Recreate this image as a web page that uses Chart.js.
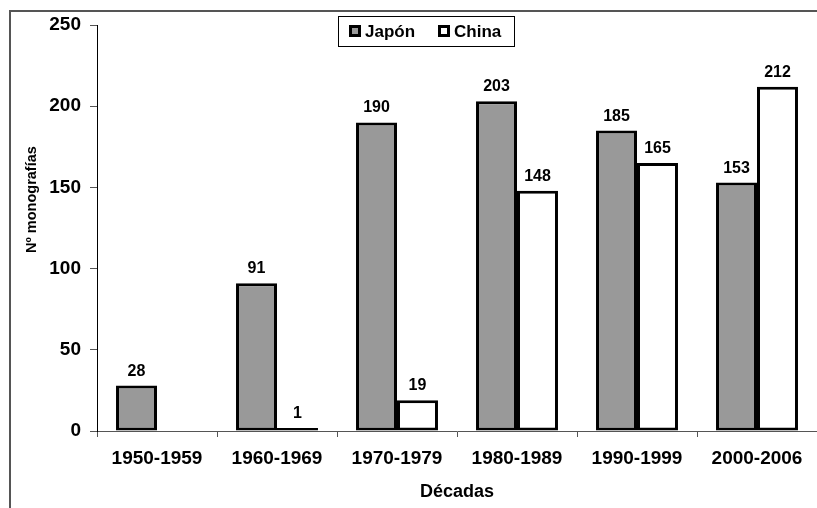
<!DOCTYPE html>
<html lang="es">
<head>
<meta charset="UTF-8">
<title>Monografías por décadas</title>
<script src="https://cdn.jsdelivr.net/npm/chart.js@4.4.0/dist/chart.umd.min.js"></script>
<style>
    body { margin: 0; background: #fff; }
</style>
</head>
<body>
<canvas id="grafico" width="817" height="508"></canvas>
<script>
    // Datos
    let decadas = ['1950-1959', '1960-1969', '1970-1979', '1980-1989', '1990-1999', '2000-2006'];
    let japon = [28, 91, 190, 203, 185, 153];
    let china = [null, 1, 19, 148, 165, 212];
    let marcasY = [0, 50, 100, 150, 200, 250];

    let fuente = "'Liberation Sans', Arial, sans-serif";

    // Marco gris exterior (solo lado izquierdo y superior visibles)
    let marco = {
        id: 'marco',
        beforeDraw(chart) {
            let c = chart.ctx;
            c.save();
            c.strokeStyle = '#555';
            c.lineWidth = 2;
            c.beginPath();
            c.moveTo(10, 508);
            c.lineTo(10, 11);
            c.lineTo(817, 11);
            c.stroke();
            c.restore();
        }
    };

    // Valores encima de cada barra
    let valores = {
        id: 'valores',
        afterDatasetsDraw(chart) {
            let c = chart.ctx;
            c.save();
            c.font = 'bold 16px ' + fuente;
            c.fillStyle = '#000';
            c.textAlign = 'center';
            c.textBaseline = 'alphabetic';
            chart.data.datasets.forEach((ds, i) => {
                chart.getDatasetMeta(i).data.forEach((barra, j) => {
                    let v = ds.data[j];
                    if (v === null) return;
                    c.fillText(v, barra.x, Math.min(barra.y, barra.base - 1.6) - 10);
                });
            });
            c.restore();
        }
    };

    // Leyenda en caja y titulos de ejes
    let extras = {
        id: 'extras',
        afterDraw(chart) {
            let c = chart.ctx;
            let area = chart.chartArea;
            c.save();
            c.fillStyle = '#fff';
            c.fillRect(338, 16, 176, 30);
            c.strokeStyle = '#000';
            c.lineWidth = 1;
            c.strokeRect(338.5, 16.5, 176, 30);

            c.font = 'bold 17px ' + fuente;
            c.textBaseline = 'alphabetic';
            c.textAlign = 'left';
            let items = [
                { x: 349, texto: chart.data.datasets[0].label, color: chart.data.datasets[0].backgroundColor },
                { x: 438, texto: chart.data.datasets[1].label, color: chart.data.datasets[1].backgroundColor }
            ];
            items.forEach(it => {
                c.fillStyle = '#000';
                c.fillRect(it.x, 25, 12, 12);
                c.fillStyle = it.color;
                c.fillRect(it.x + 3, 28, 6, 6);
                c.fillStyle = '#000';
                c.fillText(it.texto, it.x + 16, 37);
            });

            c.fillStyle = '#000';
            c.textAlign = 'center';
            c.font = 'bold 18px ' + fuente;
            c.fillText('Décadas', (area.left + area.right) / 2, 497);

            c.translate(36, area.top + area.height * 0.43);
            c.rotate(-Math.PI / 2);
            c.font = 'bold 14.5px ' + fuente;
            c.fillText('Nº monografías', 0, 0);
            c.restore();
        }
    };

    let ctx = document.getElementById('grafico').getContext('2d');
    let grafico = new Chart(ctx, {
        type: 'bar',
        data: {
            labels: decadas,
            datasets: [{
                label: 'Japón',
                data: japon,
                backgroundColor: '#999999',
                borderColor: '#000',
                borderWidth: 3,
                borderSkipped: false
            }, {
                label: 'China',
                data: china,
                backgroundColor: '#ffffff',
                borderColor: '#000',
                borderWidth: 3,
                borderSkipped: false,
                minBarLength: 3
            }]
        },
        options: {
            responsive: false,
            animation: false,
            layout: { padding: { top: 25, right: 0, left: 0, bottom: 0 } },
            categoryPercentage: 0.683,
            barPercentage: 1,
            plugins: {
                legend: { display: false },
                tooltip: { enabled: false }
            },
            scales: {
                x: {
                    grid: { drawOnChartArea: false, tickLength: 6, color: '#555', offset: true },
                    border: { color: '#555', width: 1 },
                    ticks: {
                        color: '#000',
                        padding: 10,
                        maxRotation: 0,
                        font: { family: fuente, size: 19, weight: 'bold' }
                    },
                    afterFit: s => { s.height = 77; }
                },
                y: {
                    min: 0,
                    max: 250,
                    grid: { drawOnChartArea: false, tickLength: 7, color: '#555' },
                    border: { color: '#000', width: 1 },
                    afterBuildTicks: s => { s.ticks = marcasY.map(v => ({ value: v })); },
                    ticks: {
                        color: '#000',
                        padding: 9,
                        font: { family: fuente, size: 19, weight: 'bold' }
                    },
                    afterFit: s => { s.width = 97; }
                }
            }
        },
        plugins: [marco, valores, extras]
    });
</script>
</body>
</html>
